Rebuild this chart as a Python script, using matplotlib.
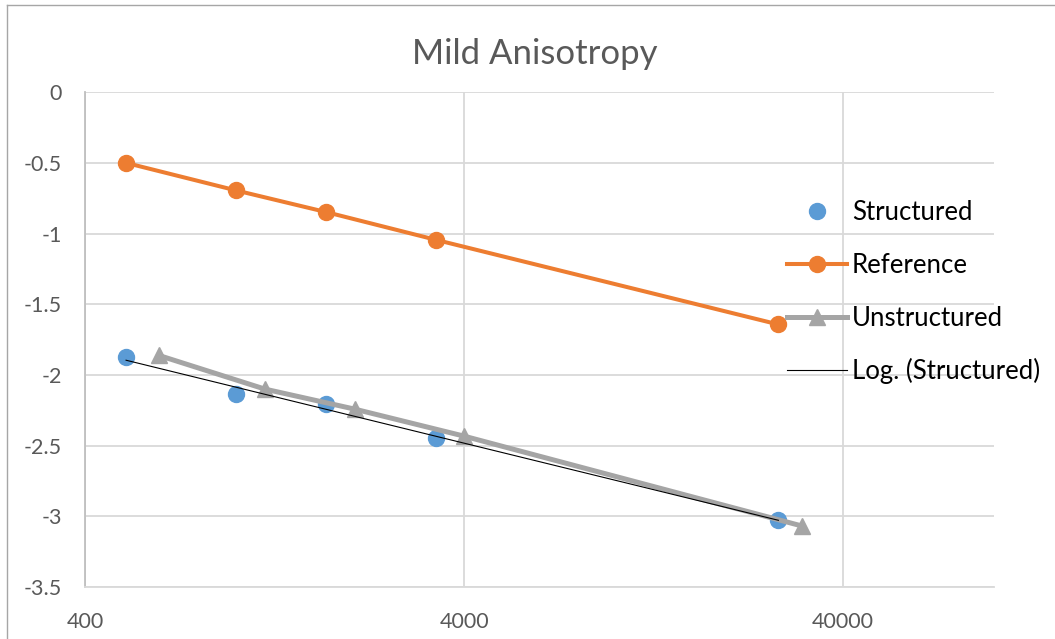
import numpy as np
import matplotlib
matplotlib.use('Agg')
import matplotlib.pyplot as plt
from matplotlib.ticker import FixedLocator, FixedFormatter, NullLocator
from matplotlib.lines import Line2D

# mesh sizes and log errors
structured_n = [512, 1000, 1728, 3375, 27000]
structured_err = [-1.875, -2.134, -2.207, -2.448, -3.025]

reference_n = [512, 1000, 1728, 3375, 27000]
reference_err = [-0.50, -0.695, -0.848, -1.045, -1.643]

unstructured_n = [625, 1190, 2056, 3996, 31200]
unstructured_err = [-1.862, -2.100, -2.242, -2.433, -3.069]

x_ticks = [400, 4000, 40000]
x_tick_labels = ['400', '4000', '40000']
y_ticks = [0, -0.5, -1, -1.5, -2, -2.5, -3, -3.5]
y_tick_labels = ['0', '-0.5', '-1', '-1.5', '-2', '-2.5', '-3', '-3.5']

plt.rcParams['font.family'] = ['Lato', 'DejaVu Sans']

fig = plt.figure(figsize=(10.55, 6.39), dpi=100)
ax = fig.add_axes([0.081, 0.0814, 0.861, 0.7743])

grid_c = '#D9D9D9'
text_c = '#595959'

ax.plot(structured_n, structured_err, 'o', color='#5B9BD5', markersize=11.5,
        label='Structured', zorder=3)
ax.plot(reference_n, reference_err, '-o', color='#ED7D31', markersize=11.5,
        linewidth=2.9, label='Reference', zorder=3)
ax.plot(unstructured_n, unstructured_err, '-^', color='#A5A5A5', markersize=12,
        linewidth=3.6, label='Unstructured', zorder=3)

# logarithmic trendline fitted to the structured series
a, b = np.polyfit(np.log(structured_n), structured_err, 1)
xs = np.linspace(min(structured_n), max(structured_n), 200)
ax.plot(xs, a * np.log(xs) + b, color='black', linewidth=0.8,
        label='Log. (Structured)', zorder=4)

ax.set_xscale('log')
ax.set_xlim(400, 100000)
ax.set_ylim(-3.5, 0)
ax.xaxis.set_major_locator(FixedLocator(x_ticks))
ax.xaxis.set_major_formatter(FixedFormatter(x_tick_labels))
ax.xaxis.set_minor_locator(NullLocator())
ax.yaxis.set_major_locator(FixedLocator(y_ticks))
ax.yaxis.set_major_formatter(FixedFormatter(y_tick_labels))

ax.grid(True, color=grid_c, linewidth=1.3, zorder=0)
ax.set_axisbelow(True)
for side in ['top', 'right']:
    ax.spines[side].set_visible(False)
ax.spines['left'].set_color('#BFBFBF')
ax.spines['bottom'].set_color(grid_c)
ax.spines['left'].set_linewidth(1.3)
ax.spines['bottom'].set_linewidth(1.3)
ax.tick_params(length=0, labelsize=15.5, labelcolor=text_c)
ax.tick_params(axis='y', pad=17)
ax.tick_params(axis='x', pad=18)

fig.text(0.507, 0.915, 'Mild Anisotropy', ha='center', va='center',
         fontsize=25, color=text_c)

handles = [
    Line2D([], [], linestyle='none', marker='o', color='#5B9BD5', markersize=11.5),
    Line2D([], [], marker='o', color='#ED7D31', markersize=11.5, linewidth=2.9),
    Line2D([], [], marker='^', color='#A5A5A5', markersize=12, linewidth=3.6),
    Line2D([], [], color='black', linewidth=0.8),
]
labels = ['Structured', 'Reference', 'Unstructured', 'Log. (Structured)']
fig.legend(handles, labels, loc='upper left', bbox_to_anchor=(0.746, 0.687),
           frameon=False, fontsize=18.5, handlelength=2.33, handletextpad=0.2,
           labelspacing=1.08, borderpad=0, borderaxespad=0)

# chart area border
fig.add_artist(Line2D([7 / 1055, 7 / 1055], [0, 1 - 5 / 639], color='#A6A6A6',
                      linewidth=1, transform=fig.transFigure))
fig.add_artist(Line2D([7 / 1055, 1], [1 - 5 / 639, 1 - 5 / 639], color='#A6A6A6',
                      linewidth=1, transform=fig.transFigure))

fig.savefig('out.png', dpi=100)
